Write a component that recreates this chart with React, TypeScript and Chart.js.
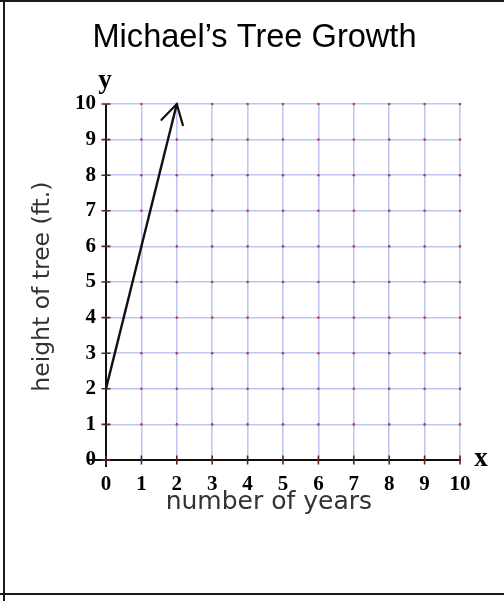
import React, { useEffect, useRef } from "react";
import { Chart, registerables } from "chart.js";

Chart.register(...registerables);

const chartTitle = "Michael’s Tree Growth";
const xAxisTitle = "number of years";
const yAxisTitle = "height of tree (ft.)";
const years = [0, 2];
const heights = [2, 10];
const xTickValues = [0, 1, 2, 3, 4, 5, 6, 7, 8, 9, 10];
const yTickValues = [0, 1, 2, 3, 4, 5, 6, 7, 8, 9, 10];
const xLetter = "x";
const yLetter = "y";

const GRID = "#c4c4f4";
const DOT = "#b04058";
const TICK = "#5a2424";
const INK = "#111111";

const gridPlugin = {
  id: "mathGrid",
  beforeDatasetsDraw(chart: any) {
    const { ctx } = chart;
    const xs = chart.scales.x;
    const ys = chart.scales.y;
    const x0 = xs.getPixelForValue(xTickValues[0]);
    const y0 = ys.getPixelForValue(yTickValues[0]);
    const xEnd = xs.getPixelForValue(xTickValues[xTickValues.length - 1]);
    const yEnd = ys.getPixelForValue(yTickValues[yTickValues.length - 1]);
    ctx.save();
    ctx.fillStyle = DOT;
    for (const xv of xTickValues) {
      for (const yv of yTickValues) {
        if (xv === 0 || yv === 0) continue;
        ctx.beginPath();
        ctx.arc(xs.getPixelForValue(xv), ys.getPixelForValue(yv), 1.3, 0, Math.PI * 2);
        ctx.fill();
      }
    }
    ctx.strokeStyle = INK;
    ctx.lineWidth = 2;
    ctx.beginPath();
    ctx.moveTo(x0, yEnd);
    ctx.lineTo(x0, y0 + 7);
    ctx.moveTo(x0 - 17, y0);
    ctx.lineTo(xEnd + 1, y0);
    ctx.stroke();
    ctx.strokeStyle = TICK;
    ctx.lineWidth = 1.6;
    ctx.beginPath();
    for (const xv of xTickValues) {
      const px = xs.getPixelForValue(xv);
      ctx.moveTo(px, y0 - 4.5);
      ctx.lineTo(px, y0 + 4.5);
    }
    for (const yv of yTickValues) {
      const py = ys.getPixelForValue(yv);
      ctx.moveTo(x0 - 4.5, py);
      ctx.lineTo(x0 + 4.5, py);
    }
    ctx.stroke();
    ctx.restore();
  },
  afterDatasetsDraw(chart: any) {
    const { ctx, chartArea } = chart;
    const xs = chart.scales.x;
    const ys = chart.scales.y;
    const meta = chart.getDatasetMeta(0);
    const pts = meta.data;
    if (pts.length >= 2) {
      const a = pts[pts.length - 2];
      const b = pts[pts.length - 1];
      const ang = Math.atan2(a.y - b.y, a.x - b.x);
      const len = 22;
      const spread = (30 * Math.PI) / 180;
      ctx.save();
      ctx.strokeStyle = INK;
      ctx.lineWidth = 2.2;
      ctx.lineCap = "round";
      ctx.beginPath();
      ctx.moveTo(b.x + len * Math.cos(ang + spread), b.y + len * Math.sin(ang + spread));
      ctx.lineTo(b.x, b.y);
      ctx.lineTo(b.x + len * Math.cos(ang - spread), b.y + len * Math.sin(ang - spread));
      ctx.stroke();
      ctx.restore();
    }
    const x0 = xs.getPixelForValue(xTickValues[0]);
    const y0 = ys.getPixelForValue(yTickValues[0]);
    const xEnd = xs.getPixelForValue(xTickValues[xTickValues.length - 1]);
    const yEnd = ys.getPixelForValue(yTickValues[yTickValues.length - 1]);
    ctx.save();
    ctx.fillStyle = "#000";
    ctx.textAlign = "center";
    ctx.textBaseline = "alphabetic";
    ctx.font = "bold 27px 'Liberation Serif'";
    ctx.fillText(yLetter, x0 - 1, yEnd - 16);
    ctx.fillText(xLetter, xEnd + 21, y0 + 6);
    // axis titles
    ctx.fillStyle = "#333";
    ctx.font = "25px 'DejaVu Sans'";
    ctx.fillText(xAxisTitle, chartArea.left + (chartArea.right - chartArea.left) * 0.46, y0 + 49);
    ctx.font = "23.5px 'DejaVu Sans'";
    ctx.translate(x0 - 63, chartArea.top + (chartArea.bottom - chartArea.top) * 0.513);
    ctx.rotate(-Math.PI / 2);
    ctx.textBaseline = "middle";
    ctx.fillText(yAxisTitle, 0, 0);
    ctx.restore();
  },
};

export default function App() {
  const canvasRef = useRef<HTMLCanvasElement | null>(null);

  useEffect(() => {
    if (!canvasRef.current) return;
    const chart = new Chart(canvasRef.current, {
      type: "line",
      data: {
        datasets: [
          {
            data: years.map((x, i) => ({ x, y: heights[i] })),
            borderColor: INK,
            borderWidth: 2.4,
            pointRadius: 0,
            fill: false,
            tension: 0,
          },
        ],
      },
      options: {
        animation: false,
        responsive: false,
        maintainAspectRatio: false,
        devicePixelRatio: 1,
        layout: { padding: { left: 5, right: 0, top: 0, bottom: 0 } },
        plugins: {
          legend: { display: false },
          tooltip: { enabled: false },
          title: {
            display: true,
            text: chartTitle,
            color: "#000",
            font: { family: "'Liberation Sans', Arial, sans-serif", size: 32.6, weight: "normal" },
            padding: { top: 18.4, bottom: 46.5 },
          },
        },
        scales: {
          x: {
            type: "linear",
            min: 0,
            max: 10,
            afterBuildTicks: (s: any) => {
              s.ticks = xTickValues.map((v) => ({ value: v }));
            },
            afterFit: (s: any) => {
              s.height = 141;
            },
            ticks: {
              color: "#000",
              padding: 11.5,
              font: { family: "'Liberation Serif', serif", size: 21, weight: "bold" },
              maxRotation: 0,
              autoSkip: false,
            },
            grid: { color: GRID, lineWidth: 1.6, drawTicks: false },
            border: { display: false },
            title: { display: false },
          },
          y: {
            type: "linear",
            min: 0,
            max: 10,
            afterBuildTicks: (s: any) => {
              s.ticks = yTickValues.map((v) => ({ value: v }));
            },
            afterFit: (s: any) => {
              s.width = 101;
            },
            ticks: {
              color: "#000",
              padding: 10,
              font: { family: "'Liberation Serif', serif", size: 21, weight: "bold" },
              autoSkip: false,
            },
            grid: { color: GRID, lineWidth: 1.6, drawTicks: false },
            border: { display: false },
            title: { display: false },
          },
          yRight: {
            type: "linear",
            position: "right",
            min: 0,
            max: 10,
            display: true,
            afterFit: (s: any) => {
              s.width = 44;
            },
            ticks: { display: false },
            grid: { display: false, drawTicks: false },
            border: { display: false },
            title: { display: false },
          },
        },
      },
      plugins: [gridPlugin],
    });
    return () => chart.destroy();
  }, []);

  return (
    <div style={{ position: "fixed", left: 0, top: 0, width: 504, height: 601, background: "#fff", overflow: "hidden" }}>
      <canvas ref={canvasRef} width={504} height={601} style={{ display: "block", position: "absolute", left: 0, top: 0 }} />
      <div style={{ position: "absolute", left: 0, top: 0, width: 504, height: 2, background: "#1a1a1a" }} />
      <div style={{ position: "absolute", left: 3, top: 0, width: 2, height: 601, background: "#1a1a1a" }} />
      <div style={{ position: "absolute", left: 0, top: 593, width: 504, height: 2, background: "#1a1a1a" }} />
    </div>
  );
}
